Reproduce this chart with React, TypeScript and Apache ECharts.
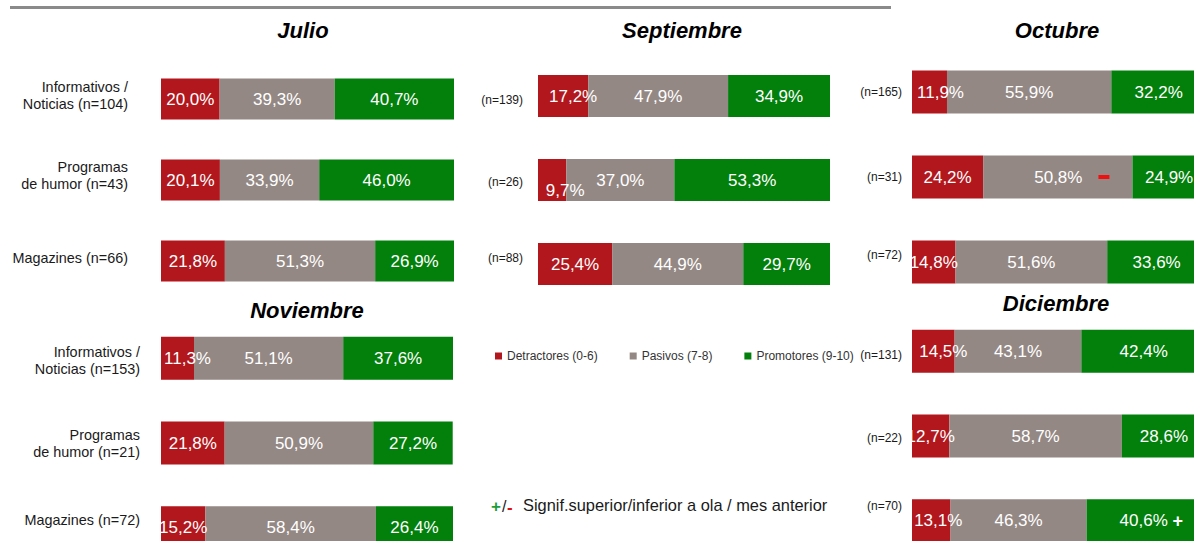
import React, { useEffect, useRef } from 'react';
import * as echarts from 'echarts';

// ---------- DATA ----------
const months = ['Julio', 'Septiembre', 'Octubre', 'Noviembre', 'Diciembre'];
const seriesNames = ['Detractores (0-6)', 'Pasivos (7-8)', 'Promotores (9-10)'];

const julioLabels = ['Informativos /\nNoticias (n=104)', 'Programas\nde humor (n=43)', 'Magazines (n=66)'];
const septiembreLabels = ['(n=139)', '(n=26)', '(n=88)'];
const octubreLabels = ['(n=165)', '(n=31)', '(n=72)'];
const noviembreLabels = ['Informativos /\nNoticias (n=153)', 'Programas\nde humor (n=21)', 'Magazines (n=72)'];
const diciembreLabels = ['(n=131)', '(n=22)', '(n=70)'];

// one inner array per month, one value per row (Informativos, Humor, Magazines)
const detractores = [
  [20.0, 20.1, 21.8],
  [17.2, 9.7, 25.4],
  [11.9, 24.2, 14.8],
  [11.3, 21.8, 15.2],
  [14.5, 12.7, 13.1],
];
const pasivos = [
  [39.3, 33.9, 51.3],
  [47.9, 37.0, 44.9],
  [55.9, 50.8, 51.6],
  [51.1, 50.9, 58.4],
  [43.1, 58.7, 46.3],
];
const promotores = [
  [40.7, 46.0, 26.9],
  [34.9, 53.3, 29.7],
  [32.2, 24.9, 33.6],
  [37.6, 27.2, 26.4],
  [42.4, 28.6, 40.6],
];

// significance marks: [month index, row index, series index, mark]
const signifMarks: [number, number, number, string][] = [
  [2, 1, 1, '-'],
  [4, 2, 2, '+'],
];
const noteText = 'Signif.superior/inferior a ola / mes anterior';

// ---------- LAYOUT / STYLE ----------
const FONT = '"Liberation Sans", Arial, Helvetica, sans-serif';
const colors = ['#B2171D', '#948884', '#037F0C'];
const monthLabels = [julioLabels, septiembreLabels, octubreLabels, noviembreLabels, diciembreLabels];

const panels = [
  { left: 161, top: 58.5, width: 293, height: 243, barWidth: 41, margin: 33, fontSize: 14.4, tx: 303, ty: 30 },
  { left: 538, top: 54, width: 292, height: 252, barWidth: 42, margin: 15, fontSize: 12, tx: 682, ty: 30 },
  { left: 912, top: 49.5, width: 294, height: 255, barWidth: 43, margin: 10, fontSize: 12, tx: 1057, ty: 30 },
  { left: 161, top: 316, width: 292, height: 254, barWidth: 43, margin: 21, fontSize: 14.4, tx: 307, ty: 310 },
  { left: 912, top: 309, width: 294, height: 254, barWidth: 43, margin: 10, fontSize: 12, tx: 1056, ty: 303 },
];
// vertical shift (px, up positive) of category labels
const catShift = [
  [4, 5, 3],
  [-4, -2, 6],
  [0, 0, 7],
  [-2, 0, 8],
  [-4, -2, 15],
];
// label offsets of selected bar labels, key "month-row-series"
const labelOffsets: Record<string, [number, number]> = {
  '1-0-0': [10, 0],
  '1-1-0': [13, 10],
  '2-0-0': [11, 0],
  '3-0-0': [10, 0],
  '4-0-0': [10, 0],
  '4-2-0': [7, 0],
  '2-1-1': [14, 0],
  '4-2-2': [5, 0],
};

const fmt = (v: number) => v.toFixed(1).replace('.', ',') + '%';

function buildOption() {
  const values = [detractores, pasivos, promotores];
  const grid = panels.map((p) => ({ left: p.left, top: p.top, width: p.width, height: p.height }));
  const xAxis = panels.map((_, i) => ({
    type: 'value', gridIndex: i, min: 0, max: 100, show: false,
  }));
  const yAxis = panels.map((p, i) => {
    const rich: any = {};
    catShift[i].forEach((d, r) => {
      rich['g' + r] = { fontSize: 1, lineHeight: Math.max(1, Math.abs(2 * d)) };
    });
    return {
      type: 'category',
      gridIndex: i,
      inverse: true,
      data: monthLabels[i],
      axisLine: { show: false },
      axisTick: { show: false },
      splitLine: { show: false },
      axisLabel: {
        margin: p.margin,
        fontSize: p.fontSize,
        lineHeight: p.fontSize > 13 ? 17 : 14,
        color: '#1a1a1a',
        fontFamily: FONT,
        align: 'right',
        rich,
        formatter: (val: string, idx: number) => {
          const d = catShift[i][idx];
          if (!d) return val;
          return d > 0 ? `${val}\n{g${idx}| }` : `{g${idx}| }\n${val}`;
        },
      },
    };
  });

  const series: any[] = [];
  panels.forEach((p, m) => {
    seriesNames.forEach((name, s) => {
      series.push({
        type: 'bar',
        name,
        stack: 'm' + m,
        xAxisIndex: m,
        yAxisIndex: m,
        barWidth: p.barWidth,
        itemStyle: { color: colors[s] },
        label: {
          show: true,
          position: 'inside',
          color: '#fff',
          fontSize: 17,
          fontFamily: FONT,
          formatter: (prm: any) => fmt(prm.value),
        },
        data: values[s][m].map((v, r) => {
          const item: any = { value: v };
          const off = labelOffsets[`${m}-${r}-${s}`];
          const mark = signifMarks.find((k) => k[0] === m && k[1] === r && k[2] === s);
          const lab: any = {};
          if (off) lab.offset = off;
          if (mark) {
            if (mark[3] === '-') {
              lab.formatter = fmt(v) + '{sp| }{mn| }';
            } else {
              lab.formatter = fmt(v) + ' {pl|+}';
            }
            lab.rich = {
              sp: { width: 16, fontSize: 17 },
              mn: { width: 11, height: 4, backgroundColor: '#F01010', verticalAlign: 'middle' },
              pl: { fontSize: 18, fontWeight: 'bold', color: '#fff', fontFamily: FONT },
            };
          }
          if (Object.keys(lab).length) item.label = lab;
          return item;
        }),
      });
    });
  });

  const graphic: any[] = [
    {
      type: 'line',
      shape: { x1: 10, y1: 7.5, x2: 891, y2: 7.5 },
      style: { stroke: '#8a8a8a', lineWidth: 3 },
    },
    ...panels.map((p, i) => ({
      type: 'text',
      x: p.tx,
      y: p.ty,
      style: {
        text: months[i],
        fontSize: 22,
        fontWeight: 'bold',
        fontStyle: 'italic',
        fontFamily: FONT,
        fill: '#000',
        align: 'center',
        verticalAlign: 'middle',
      },
    })),
    {
      type: 'text', x: 491, y: 506,
      style: { text: '+', fontSize: 17, fontWeight: 'bold', fontFamily: FONT, fill: '#1E9E3A', verticalAlign: 'middle' },
    },
    {
      type: 'text', x: 502, y: 506,
      style: { text: '/', fontSize: 16, fontFamily: FONT, fill: '#1a1a1a', verticalAlign: 'middle' },
    },
    {
      type: 'text', x: 507, y: 507,
      style: { text: '-', fontSize: 17, fontWeight: 'bold', fontFamily: FONT, fill: '#E01010', verticalAlign: 'middle' },
    },
    {
      type: 'text', x: 523, y: 505,
      style: { text: noteText, fontSize: 16.4, fontFamily: FONT, fill: '#1a1a1a', verticalAlign: 'middle' },
    },
  ];

  return {
    animation: false,
    backgroundColor: '#fff',
    grid,
    xAxis,
    yAxis,
    series,
    legend: {
      data: seriesNames,
      left: 490,
      top: 345,
      icon: 'rect',
      itemWidth: 7,
      itemHeight: 7,
      itemGap: 32,
      selectedMode: false,
      textStyle: { fontSize: 12, color: '#333', fontFamily: FONT },
    },
    graphic,
  };
}

export default function App() {
  const ref = useRef<HTMLDivElement>(null);
  useEffect(() => {
    if (!ref.current) return;
    const chart = echarts.init(ref.current, undefined, { renderer: 'svg' });
    chart.setOption(buildOption() as any);
    return () => chart.dispose();
  }, []);
  return (
    <div
      style={{
        position: 'absolute', left: 0, top: 0, width: 1194, height: 541,
        overflow: 'hidden', background: '#fff',
      }}
    >
      <div ref={ref} style={{ width: 1230, height: 600 }} />
    </div>
  );
}
